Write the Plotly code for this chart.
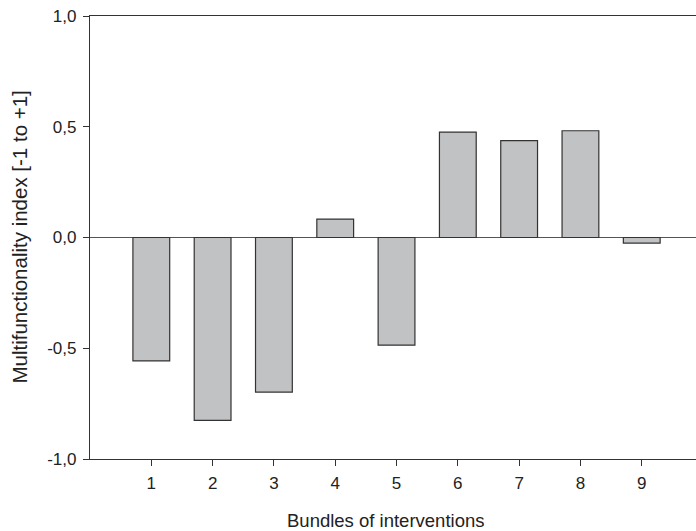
import plotly.graph_objects as go

bundles = [1, 2, 3, 4, 5, 6, 7, 8, 9]
index_values = [-0.557, -0.826, -0.698, 0.083, -0.486, 0.476, 0.437, 0.482, -0.025]
y_tick_vals = [-1.0, -0.5, 0.0, 0.5, 1.0]
y_tick_text = ["-1,0", "-0,5", "0,0", "0,5", "1,0"]
x_title = "Bundles of interventions"
y_title = "Multifunctionality index [-1 to +1]"

FONT = "Liberation Sans, Arial, sans-serif"

fig = go.Figure(
    go.Bar(
        x=bundles,
        y=index_values,
        width=0.6,
        marker=dict(color="#c1c2c4", line=dict(color="#333333", width=1.2)),
    )
)

fig.update_layout(
    width=696,
    height=531,
    margin=dict(l=90, r=0, t=16, b=72),
    paper_bgcolor="white",
    plot_bgcolor="white",
    showlegend=False,
    font=dict(family=FONT, size=17, color="#222222"),
    xaxis=dict(
        range=[0, 9.885],
        tickmode="array",
        tickvals=bundles,
        ticktext=[str(b) for b in bundles],
        ticks="outside",
        ticklen=6,
        tickwidth=1,
        tickcolor="#333333",
        showline=True,
        linecolor="#333333",
        linewidth=1.3,
        mirror=True,
        showgrid=False,
        zeroline=False,
        tickfont=dict(size=17),
        ticklabelstandoff=2,
    ),
    yaxis=dict(
        range=[-1, 1],
        tickmode="array",
        tickvals=y_tick_vals,
        ticktext=y_tick_text,
        ticks="outside",
        ticklen=6,
        tickwidth=1,
        tickcolor="#333333",
        showline=True,
        linecolor="#333333",
        linewidth=1.3,
        showgrid=False,
        zeroline=True,
        zerolinecolor="#555555",
        zerolinewidth=1,
        tickfont=dict(size=17),
        ticklabelstandoff=3,
    ),
    annotations=[
        dict(
            text=x_title, xref="paper", yref="paper",
            x=0.488, y=-0.1377, xanchor="center", yanchor="middle",
            showarrow=False, font=dict(family=FONT, size=18.5, color="#222222"),
        ),
        dict(
            text=y_title, xref="paper", yref="paper",
            x=-0.117, y=0.5, xanchor="center", yanchor="middle", textangle=-90,
            showarrow=False, font=dict(family=FONT, size=20.5, color="#222222"),
        ),
    ],
)

fig.write_html(
    "out.html",
    config={"displayModeBar": False},
    post_script="document.body.style.margin='0';document.body.style.overflow='hidden';",
)
